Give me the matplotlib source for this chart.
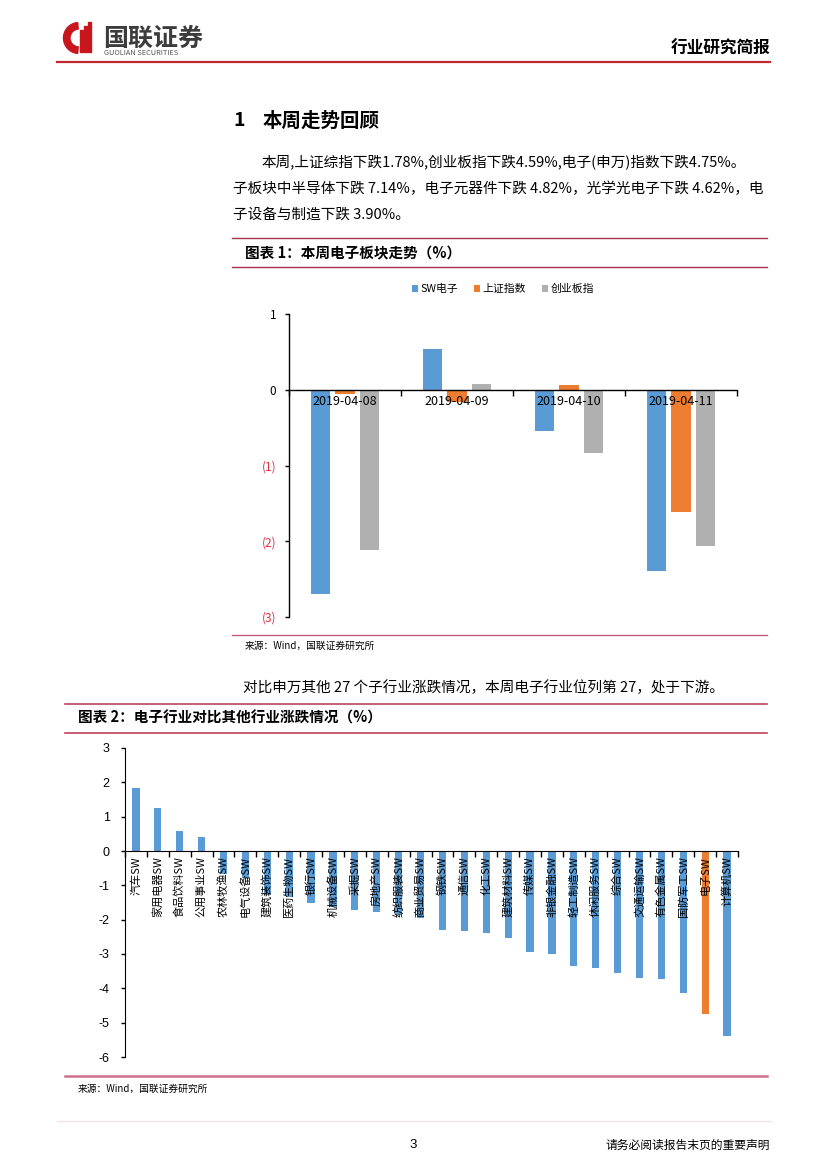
import matplotlib
matplotlib.use('Agg')
import matplotlib.pyplot as plt
from matplotlib.lines import Line2D
from matplotlib.patches import Wedge, Rectangle
import numpy as np

plt.rcParams['font.family'] = ['Noto Sans CJK SC', 'DejaVu Sans']
plt.rcParams['axes.unicode_minus'] = False

W, H = 827, 1169

# ---------------- data: chart 1 ----------------
dates = ['2019-04-08', '2019-04-09', '2019-04-10', '2019-04-11']
sw_elec = [-2.69, 0.54, -0.55, -2.39]
sh_index = [-0.06, -0.16, 0.06, -1.61]
cyb_index = [-2.12, 0.08, -0.84, -2.06]
series1_names = ['SW电子', '上证指数', '创业板指']
y1_ticks = [1, 0, -1, -2, -3]
y1_labels = ['1', '0', '(1)', '(2)', '(3)']

# ---------------- data: chart 2 ----------------
industries = ['汽车', '家用电器', '食品饮料', '公用事业', '农林牧渔', '电气设备', '建筑装饰',
              '医药生物', '银行', '机械设备', '采掘', '房地产', '纺织服装', '商业贸易', '钢铁',
              '通信', '化工', '建筑材料', '传媒', '非银金融', '轻工制造', '休闲服务', '综合',
              '交通运输', '有色金属', '国防军工', '电子', '计算机']
changes = [1.84, 1.25, 0.57, 0.41, -0.68, -0.78, -1.28, -1.33, -1.50, -1.62, -1.73, -1.77,
           -1.85, -1.95, -2.29, -2.32, -2.40, -2.54, -2.95, -3.00, -3.36, -3.41, -3.55, -3.70,
           -3.74, -4.13, -4.75, -5.38]
y2_ticks = [3, 2, 1, 0, -1, -2, -3, -4, -5, -6]
highlight = '电子'

BLUE = '#5B9BD5'
ORANGE = '#ED7D31'
GRAY = '#B0B0B0'

fig = plt.figure(figsize=(W / 100, H / 100), dpi=100)


def ptext(x, y, s, **kw):
    fig.text(x / W, 1 - y / H, s, **kw)


def hline(x0, x1, y, **kw):
    fig.add_artist(Line2D([x0 / W, x1 / W], [1 - y / H, 1 - y / H],
                          transform=fig.transFigure, **kw))


# ---------------- header ----------------
inch = fig.dpi_scale_trans
def px(x, y):
    return (x / 100, (H - y) / 100)

fig.add_artist(Wedge(px(79, 38), 0.155, 95, 265, width=0.065, color='#C8161D', transform=inch))
for bx, top in [(80, 30), (84, 26), (88, 22)]:
    fig.add_artist(Rectangle(px(bx, 52), 0.025, (52 - top) / 100, color='#C8161D', transform=inch))
ptext(103, 39, '国联证券', fontsize=18, fontweight='bold', color='#3C3C3C', va='center', ha='left')
ptext(104, 53, 'GUOLIAN SECURITIES', fontsize=5.3, color='#555555', va='center', ha='left')
hline(57, 770, 62, color='#C0282D', lw=1.6)
ptext(770, 49, '行业研究简报', fontsize=12, fontweight='bold', color='black', va='center', ha='right')

# ---------------- section 1 ----------------
ptext(233, 121, '1', fontsize=14, fontweight='bold', va='center', ha='left')
ptext(263, 121, '本周走势回顾', fontsize=14, fontweight='bold', va='center', ha='left')
ptext(262, 163, '本周,上证综指下跌1.78%,创业板指下跌4.59%,电子(申万)指数下跌4.75%。',
      fontsize=10.5, va='center', ha='left')
ptext(233, 189, '子板块中半导体下跌 7.14%，电子元器件下跌 4.82%，光学光电子下跌 4.62%，电',
      fontsize=10.5, va='center', ha='left')
ptext(233, 215, '子设备与制造下跌 3.90%。', fontsize=10.5, va='center', ha='left')

hline(232, 767, 238, color='#A8324F', lw=1.0)
ptext(245, 253, '图表 1：本周电子板块走势（%）', fontsize=10.5, fontweight='bold',
      va='center', ha='left')
hline(232, 767, 267, color='#A8324F', lw=1.0)

# ---------------- chart 1 ----------------
ax1 = fig.add_axes([289 / W, 1 - 617 / H, 448 / W, 303 / H])
x = np.arange(len(dates))
bw, off = 0.175, 0.22
b1 = ax1.bar(x - off, sw_elec, bw, color=BLUE, label=series1_names[0])
b2 = ax1.bar(x, sh_index, bw, color=ORANGE, label=series1_names[1])
b3 = ax1.bar(x + off, cyb_index, bw, color=GRAY, label=series1_names[2])
ax1.set_xlim(-0.5, len(dates) - 0.5)
ax1.set_ylim(-3, 1)
for s in ['top', 'right']:
    ax1.spines[s].set_visible(False)
ax1.spines['bottom'].set_position(('data', 0))
ax1.spines['left'].set_linewidth(1.0)
ax1.spines['bottom'].set_linewidth(1.0)
ax1.set_xticks(x)
ax1.set_xticklabels(dates, fontsize=9)
ax1.set_xticks(np.arange(-0.5, len(dates), 1), minor=True)
ax1.tick_params(axis='x', which='major', length=0, pad=4)
ax1.tick_params(axis='x', which='minor', length=4, direction='out', width=1)
ax1.set_yticks(y1_ticks)
ax1.set_yticklabels(y1_labels, fontsize=8.5)
for lbl, v in zip(ax1.get_yticklabels(), y1_ticks):
    lbl.set_color('#E03040' if v < 0 else 'black')
ax1.tick_params(axis='y', length=3, direction='out', width=1, pad=6)
ax1.legend(handles=[b1, b2, b3], loc='center', bbox_to_anchor=(503 / W, 1 - 289 / H),
           bbox_transform=fig.transFigure, ncol=3, frameon=False, fontsize=7.8,
           handlelength=0.55, handleheight=0.55, handletextpad=0.3, columnspacing=1.4)

hline(232, 767, 635, color='#C25A82', lw=1.0)
ptext(245, 646, '来源：Wind，国联证券研究所', fontsize=7, va='center', ha='left')

# ---------------- section 2 text ----------------
ptext(243, 688, '对比申万其他 27 个子行业涨跌情况，本周电子行业位列第 27，处于下游。',
      fontsize=10.5, va='center', ha='left')
hline(65, 767, 704, color='#C0405F', lw=1.2)
ptext(78, 718, '图表 2：电子行业对比其他行业涨跌情况（%）', fontsize=10.5, fontweight='bold',
      va='center', ha='left')
hline(65, 767, 733, color='#C0405F', lw=1.2)

# ---------------- chart 2 ----------------
ax2 = fig.add_axes([125 / W, 1 - 1057 / H, 613 / W, 309 / H])
xi = np.arange(len(industries))
cols = [ORANGE if n == highlight else BLUE for n in industries]
ax2.bar(xi, changes, 0.33, color=cols, zorder=1)
ax2.set_xlim(-0.5, len(industries) - 0.5)
ax2.set_ylim(-6, 3)
for s in ['top', 'right']:
    ax2.spines[s].set_visible(False)
ax2.spines['bottom'].set_position(('data', 0))
ax2.set_xticks([])
ax2.set_xticks(np.arange(-0.5, len(industries), 1), minor=True)
ax2.tick_params(axis='x', which='minor', length=4, direction='out', width=1)
ax2.set_yticks(y2_ticks)
ax2.set_yticklabels([str(v) for v in y2_ticks], fontsize=9,
                    fontfamily=['Liberation Sans', 'DejaVu Sans'])
ax2.tick_params(axis='y', length=3, direction='out', width=1, pad=8)
for i, n in enumerate(industries):
    ax2.annotate(n + 'SW', (i, 0), xytext=(0, -4), textcoords='offset points',
                 rotation=90, ha='center', va='top', fontsize=8, zorder=5,
                 annotation_clip=False)

hline(65, 767, 1076, color='#D0708F', lw=1.8)
ptext(78, 1089, '来源：Wind，国联证券研究所', fontsize=7, va='center', ha='left')

# ---------------- footer ----------------
hline(57, 770, 1121, color='#F5DDE3', lw=1.0)
ptext(413, 1145, '3', fontsize=9.5, va='center', ha='center',
      fontfamily=['Liberation Sans', 'DejaVu Sans'])
ptext(770, 1145, '请务必阅读报告末页的重要声明', fontsize=8.5, va='center', ha='right')

fig.savefig('out.png', dpi=100)
